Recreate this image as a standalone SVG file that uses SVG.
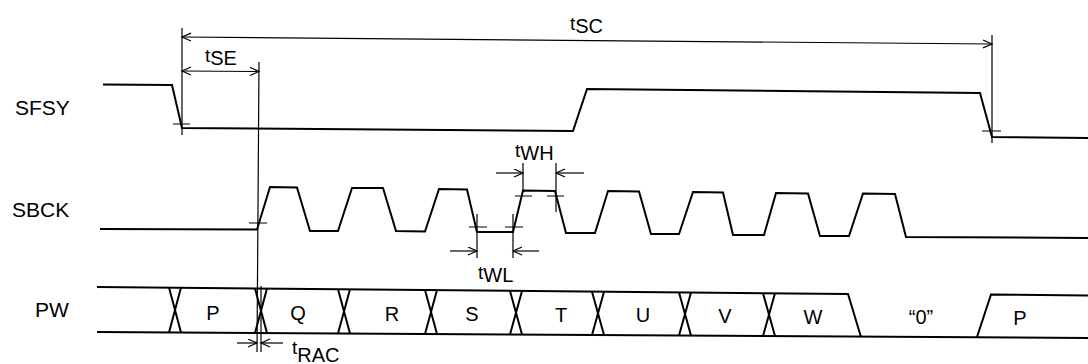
<svg xmlns="http://www.w3.org/2000/svg" width="1088" height="364" viewBox="0 0 1088 364">
<style>
.sig{fill:none;stroke:#000;stroke-width:2;stroke-linejoin:miter}
.dim{fill:none;stroke:#000;stroke-width:1.2}
.arr{marker-end:url(#ah)}
.both{marker-start:url(#ah);marker-end:url(#ah)}
.lbl{font-family:"Liberation Sans",Arial,sans-serif;font-size:21px;fill:#000}
.bus{font-family:"Liberation Sans",Arial,sans-serif;font-size:20px;fill:#000;text-anchor:middle}
.tm{font-family:"Liberation Sans",Arial,sans-serif;font-size:19px;fill:#000}
.sb{font-size:20px}
</style>
<defs>
<marker id="ah" markerUnits="userSpaceOnUse" markerWidth="12" markerHeight="10" refX="10" refY="4.5" orient="auto-start-reverse">
<path d="M1,0.5 L10,4.5 L1,8.5" fill="none" stroke="#000" stroke-width="1.2"/>
</marker>
</defs>
<rect width="1088" height="364" fill="#fff"/>

<g id="labels">
<text class="lbl" x="15" y="115">SFSY</text>
<text class="lbl" x="12" y="217">SBCK</text>
<text class="lbl" x="35" y="317">PW</text>
</g>

<g id="sfsy">
<path class="sig" d="M103,84.5 L172,85 L182,128 L573,131 L587,89 L980,93 L992,137 L1088,138"/>
</g>

<g id="sbck">
<path class="sig" d="M100,229 L257,229.5 L270,187 L297,187.5 L310,231 L338,231 L352,188 L383,188 L396,231 L425,231.5 L439,189 L467,189.5 L477,232 L513,232 L523,190.5 L555,191 L566,233 L595,233 L608,191 L639,191.5 L651,234 L679,234 L693,192 L723,192.5 L733,235 L764,235 L776,193 L808,193.5 L820,236 L849,236 L863,193.5 L895,194 L906,237 L1088,238"/>
</g>

<g id="pw">
<path class="sig" d="M97,287 L848,294 L861,337"/>
<path class="sig" d="M97,332 L1088,338"/>
<path class="sig" d="M977,337 L991,294.5 L1088,295.5"/>
<path class="sig" d="M169,287.6 L181,332.6 M181,287.6 L169,332.6"/>
<path class="sig" d="M255,288.5 L267,333.1 M267,288.5 L255,333.1"/>
<path class="sig" d="M338,289.3 L350,333.6 M350,289.3 L338,333.6"/>
<path class="sig" d="M425,290.1 L437,334.1 M437,290.1 L425,334.1"/>
<path class="sig" d="M510,290.9 L522,334.6 M522,290.9 L510,334.6"/>
<path class="sig" d="M592,291.7 L604,335.1 M604,291.7 L592,335.1"/>
<path class="sig" d="M679,292.5 L691,335.6 M691,292.5 L679,335.6"/>
<path class="sig" d="M763,293.3 L775,336.1 M775,293.3 L763,336.1"/>
<text class="bus" x="213" y="320">P</text>
<text class="bus" x="298" y="320">Q</text>
<text class="bus" x="392" y="321">R</text>
<text class="bus" x="472" y="321">S</text>
<text class="bus" x="561" y="322">T</text>
<text class="bus" x="643" y="322">U</text>
<text class="bus" x="725" y="323">V</text>
<text class="bus" x="813" y="324">W</text>
<text class="bus" x="921" y="324">“0”</text>
<text class="bus" x="1020" y="325">P</text>
</g>

<g id="connectors">
<path class="dim" d="M182,28 L182,135"/>
<path class="dim" d="M992,35 L992,143"/>
<path class="dim" d="M259,62 L257,352"/>
<path class="dim" d="M261,286 L261,352"/>
<path class="dim" d="M477,214 L477,258 M513,214 L513,258"/>
<path class="dim" d="M523,163 L523,192 M556,163 L556,212"/>
<path class="dim" d="M173,124 L190,124 M982,131 L1001,131 M249,223 L267,223 M469,227 L487,227 M505,227 L523,227 M515,196 L532,196 M547,196 L564,196"/>
<path class="dim both" d="M182,37 L992,44"/>
<path class="dim both" d="M182,71 L259,71.5"/>
<path class="dim arr" d="M450,251 L477,251"/>
<path class="dim arr" d="M539,251 L513,251"/>
<path class="dim arr" d="M496,173 L523,173"/>
<path class="dim arr" d="M584,173 L556,173"/>
<path class="dim arr" d="M237,343 L257,343"/>
<path class="dim arr" d="M283,343 L261,343"/>
</g>

<g id="timing-labels">
<text class="tm" x="570" y="30">t<tspan class="sb" dy="3">SC</tspan></text>
<text class="tm" x="205" y="62">t<tspan class="sb" dy="3">SE</tspan></text>
<text class="tm" x="515" y="157">t<tspan class="sb" dy="3">WH</tspan></text>
<text class="tm" x="478" y="279">t<tspan class="sb" dy="3">WL</tspan></text>
<text class="tm" x="292" y="354">t<tspan class="sb" dy="8">RAC</tspan></text>
</g>
</svg>
